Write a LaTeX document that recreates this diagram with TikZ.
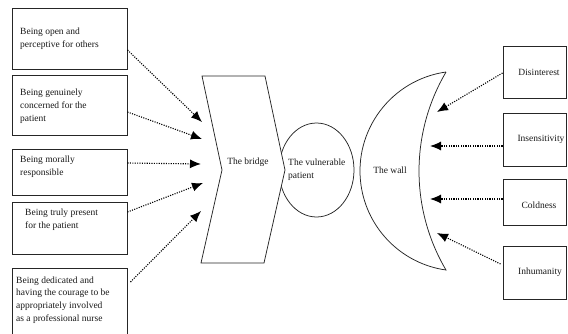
\documentclass[tikz,border=0pt]{standalone}
\usepackage{fontspec}
\setmainfont{Liberation Serif}
\usetikzlibrary{arrows.meta,shapes.geometric}
\tikzset{
  box/.style={draw=black!85, line width=0.95pt, rectangle, inner sep=0pt},
  txt/.style={inner sep=0pt, align=left, font=\fontsize{9.5pt}{12.8pt}\selectfont, text=black!90},
  ctxt/.style={inner sep=0pt, align=center, font=\fontsize{9.5pt}{12.8pt}\selectfont, text=black!90},
  shapeline/.style={draw=black!85, line width=0.75pt},
  link/.style={draw=black, line width=1.1pt, dash pattern=on 1.1pt off 1.3pt,
               -{Latex[length=11pt,width=9pt]}}
}
\begin{document}
\begin{tikzpicture}[x=1pt,y=1pt]
\useasboundingbox (0,0) rectangle (568,333);
\clip (0,0) rectangle (568,333);

% left column of qualities
\node[box, minimum width=115pt, minimum height=61pt] (b1) at (69.5,294.5) {};
\node[box, minimum width=115pt, minimum height=60pt] (b2) at (69.5,228) {};
\node[box, minimum width=115pt, minimum height=46pt] (b3) at (69.5,161) {};
\node[box, minimum width=115pt, minimum height=52pt] (b4) at (69.5,105) {};
\node[box, minimum width=115pt, minimum height=75pt] (b5) at (69.5,27.5) {};

\node[txt, anchor=west] (t1) at (20,294) {Being open and\\perceptive for others};
\node[txt, anchor=west] (t2) at (20,226.5) {Being genuinely\\concerned for the\\patient};
\node[txt, anchor=west] (t3) at (20,166) {Being morally\\responsible};
\node[txt, anchor=west] (t4) at (25,113.5) {Being truly present\\for the patient};
\node[txt, anchor=west] (t5) at (16,33) {Being dedicated and\\having the courage to be\\appropriately involved\\as a professional nurse};

% the patient, partly behind the bridge
\node[shapeline, ellipse, minimum width=75pt, minimum height=94pt, inner sep=0pt] (pat) at (316.5,163) {};
\node[txt, anchor=west] (patlbl) at (288,163) {The vulnerable\\patient};

% the bridge
\filldraw[shapeline, fill=white] (202,257) -- (265,257) -- (285,163) -- (264,70)
  -- (201,70) -- (222,163) -- cycle;
\node[ctxt] (bridge) at (248,170.5) {The bridge};

% the wall (crescent)
\draw[shapeline] (446,261) arc[start angle=98.05, end angle=261.95, radius=100]
  arc[start angle=210.5, end angle=149.5, radius=195];
\node[ctxt] (wall) at (390,163) {The wall};

% right column of barriers
\node[box, minimum width=63pt, minimum height=52pt] (r1) at (534.5,261) {};
\node[box, minimum width=63pt, minimum height=53pt] (r2) at (534.5,193.5) {};
\node[box, minimum width=63pt, minimum height=46pt] (r3) at (534.5,131) {};
\node[box, minimum width=63pt, minimum height=53pt] (r4) at (534.5,60.5) {};

\node[ctxt] (d1) at (539,261) {Disinterest};
\node[ctxt] (d2) at (541,194) {Insensitivity};
\node[ctxt] (d3) at (539,128) {Coldness};
\node[ctxt] (d4) at (540,61) {Inhumanity};

% arrow ends at the bridge and at the wall
\coordinate (e1) at (202,211);
\coordinate (e2) at (202,194);
\coordinate (e3) at (201,169);
\coordinate (e4) at (203,150);
\coordinate (e5) at (201,122);
\coordinate (w1) at (437,221);
\coordinate (w2) at (430,187);
\coordinate (w3) at (430,134);
\coordinate (w4) at (437,100);

\draw[link] ([yshift=-11.5pt]b1.east) -- (e1);
\draw[link] ([yshift=-7pt]b2.east) -- (e2);
\draw[link] ([yshift=9pt]b3.east) -- (e3);
\draw[link] ([yshift=16pt]b4.east) -- (e4);
\draw[link] ([xshift=3pt,yshift=23.5pt]b5.east) -- (e5);

\draw[link] ([yshift=-1pt]r1.west) -- (w1);
\draw[link] ([yshift=-6.5pt]r2.west) -- (w2);
\draw[link] ([yshift=3pt]r3.west) -- (w3);
\draw[link] ([xshift=-2pt,yshift=8.5pt]r4.west) -- (w4);
\end{tikzpicture}
\end{document}
